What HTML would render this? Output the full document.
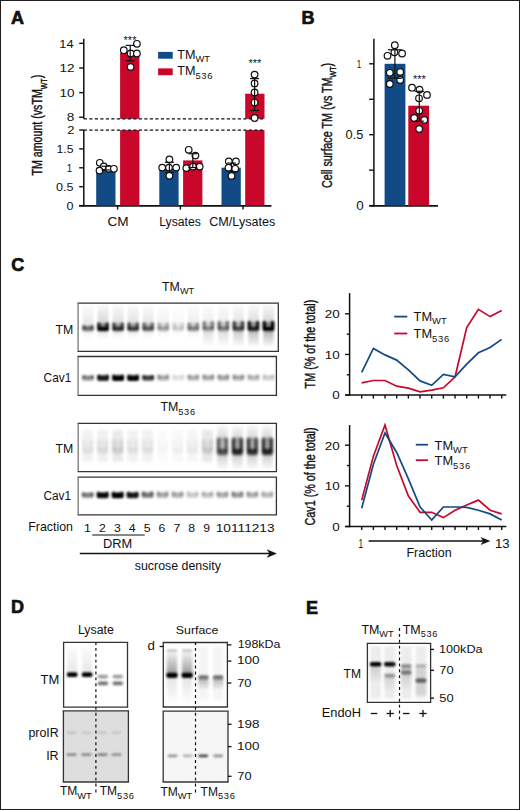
<!DOCTYPE html>
<html><head><meta charset="utf-8"><style>
html,body{margin:0;padding:0;background:#fff;overflow:hidden;}
svg{display:block;font-family:"Liberation Sans",sans-serif;}
</style></head><body>
<svg width="520" height="810" viewBox="0 0 520 810">
<defs><filter id="b5" x="-1" y="-1" width="3" height="3"><feGaussianBlur stdDeviation="0.5"/></filter><filter id="b6" x="-1" y="-1" width="3" height="3"><feGaussianBlur stdDeviation="0.6"/></filter><filter id="b7" x="-1" y="-1" width="3" height="3"><feGaussianBlur stdDeviation="0.7"/></filter><filter id="b8" x="-1" y="-1" width="3" height="3"><feGaussianBlur stdDeviation="0.8"/></filter><filter id="b9" x="-1" y="-1" width="3" height="3"><feGaussianBlur stdDeviation="0.9"/></filter><filter id="b10" x="-1" y="-1" width="3" height="3"><feGaussianBlur stdDeviation="1.0"/></filter><filter id="b11" x="-1" y="-1" width="3" height="3"><feGaussianBlur stdDeviation="1.1"/></filter><filter id="b12" x="-1" y="-1" width="3" height="3"><feGaussianBlur stdDeviation="1.2"/></filter><filter id="b13" x="-1" y="-1" width="3" height="3"><feGaussianBlur stdDeviation="1.3"/></filter><filter id="b14" x="-1" y="-1" width="3" height="3"><feGaussianBlur stdDeviation="1.4"/></filter><filter id="b15" x="-1" y="-1" width="3" height="3"><feGaussianBlur stdDeviation="1.5"/></filter><filter id="b16" x="-1" y="-1" width="3" height="3"><feGaussianBlur stdDeviation="1.6"/></filter><filter id="b17" x="-1" y="-1" width="3" height="3"><feGaussianBlur stdDeviation="1.7"/></filter><filter id="b18" x="-1" y="-1" width="3" height="3"><feGaussianBlur stdDeviation="1.8"/></filter><filter id="b19" x="-1" y="-1" width="3" height="3"><feGaussianBlur stdDeviation="1.9"/></filter><filter id="b20" x="-1" y="-1" width="3" height="3"><feGaussianBlur stdDeviation="2.0"/></filter><filter id="b21" x="-1" y="-1" width="3" height="3"><feGaussianBlur stdDeviation="2.1"/></filter><filter id="b22" x="-1" y="-1" width="3" height="3"><feGaussianBlur stdDeviation="2.2"/></filter><filter id="b23" x="-1" y="-1" width="3" height="3"><feGaussianBlur stdDeviation="2.3"/></filter><filter id="b24" x="-1" y="-1" width="3" height="3"><feGaussianBlur stdDeviation="2.4"/></filter><filter id="b25" x="-1" y="-1" width="3" height="3"><feGaussianBlur stdDeviation="2.5"/></filter><linearGradient id="gdown" x1="0" y1="0" x2="0" y2="1"><stop offset="0" stop-color="#000" stop-opacity="0.15"/><stop offset="1" stop-color="#000" stop-opacity="1"/></linearGradient><linearGradient id="gup" x1="0" y1="0" x2="0" y2="1"><stop offset="0" stop-color="#000" stop-opacity="1"/><stop offset="1" stop-color="#000" stop-opacity="0.1"/></linearGradient></defs>
<rect x="0" y="0" width="520" height="810" fill="#fff"/>
<text x="11" y="24.2" font-size="18" text-anchor="start" font-weight="bold" fill="#111" stroke="#111" stroke-width="0.7">A</text>
<line x1="83.8" y1="38.7" x2="83.8" y2="118.8" stroke="#111" stroke-width="1.5" />
<line x1="83.8" y1="130.0" x2="83.8" y2="206.3" stroke="#111" stroke-width="1.5" />
<line x1="79.2" y1="43.339999999999996" x2="83.8" y2="43.339999999999996" stroke="#111" stroke-width="1.4" />
<line x1="79.2" y1="67.97999999999999" x2="83.8" y2="67.97999999999999" stroke="#111" stroke-width="1.4" />
<line x1="79.2" y1="92.62" x2="83.8" y2="92.62" stroke="#111" stroke-width="1.4" />
<line x1="79.2" y1="117.25999999999999" x2="83.8" y2="117.25999999999999" stroke="#111" stroke-width="1.4" />
<line x1="79.2" y1="130.0" x2="83.8" y2="130.0" stroke="#111" stroke-width="1.4" />
<line x1="79.2" y1="148.9" x2="83.8" y2="148.9" stroke="#111" stroke-width="1.4" />
<line x1="79.2" y1="167.8" x2="83.8" y2="167.8" stroke="#111" stroke-width="1.4" />
<line x1="79.2" y1="186.7" x2="83.8" y2="186.7" stroke="#111" stroke-width="1.4" />
<line x1="79.2" y1="205.6" x2="83.8" y2="205.6" stroke="#111" stroke-width="1.4" />
<text transform="translate(59.23,47.5) scale(1.1229,1)" x="0" y="0" font-size="11.49" font-weight="normal" fill="#111">14</text>
<text transform="translate(59.39,71.8) scale(1.1922,1)" x="0" y="0" font-size="11.33" font-weight="normal" fill="#111">12</text>
<text transform="translate(59.38,96.5) scale(1.1949,1)" x="0" y="0" font-size="11.33" font-weight="normal" fill="#111">10</text>
<text transform="translate(66.72,121.4) scale(1.1726,1)" x="0" y="0" font-size="11.61" font-weight="normal" fill="#111">8</text>
<text transform="translate(67.15,134.2) scale(1.1596,1)" x="0" y="0" font-size="11.18" font-weight="normal" fill="#111">2</text>
<text transform="translate(56.48,153.0) scale(1.0648,1)" x="0" y="0" font-size="11.49" font-weight="normal" fill="#111">1.5</text>
<text transform="translate(66.87,171.7) scale(0.8559,1)" x="0" y="0" font-size="11.35" font-weight="normal" fill="#111">1</text>
<text transform="translate(56.00,190.7) scale(1.0846,1)" x="0" y="0" font-size="11.61" font-weight="normal" fill="#111">0.5</text>
<text transform="translate(66.60,209.6) scale(1.0955,1)" x="0" y="0" font-size="11.47" font-weight="normal" fill="#111">0</text>
<line x1="79.2" y1="205.8" x2="271.4" y2="205.8" stroke="#111" stroke-width="1.7" />
<line x1="117.6" y1="205.6" x2="117.6" y2="209.6" stroke="#111" stroke-width="1.4" />
<line x1="180.4" y1="205.6" x2="180.4" y2="209.6" stroke="#111" stroke-width="1.4" />
<line x1="243.0" y1="205.6" x2="243.0" y2="209.6" stroke="#111" stroke-width="1.4" />
<rect x="96.2" y="167.7" width="19.3" height="37.900000000000006" fill="#114a84" />
<rect x="159.3" y="167.7" width="19.3" height="37.900000000000006" fill="#114a84" />
<rect x="221.5" y="167.7" width="19.3" height="37.900000000000006" fill="#114a84" />
<rect x="120.1" y="53.0" width="19.3" height="65.8" fill="#c8072b" />
<rect x="120.1" y="130.1" width="19.3" height="75.5" fill="#c8072b" />
<rect x="183.1" y="160.4" width="19.3" height="45.19999999999999" fill="#c8072b" />
<rect x="245.2" y="93.7" width="19.3" height="25.099999999999994" fill="#c8072b" />
<rect x="245.2" y="130.1" width="19.3" height="75.5" fill="#c8072b" />
<line x1="83.8" y1="118.8" x2="264.4" y2="118.8" stroke="#111" stroke-width="1.3" stroke-dasharray="3.2 2.3"/>
<line x1="83.8" y1="130.1" x2="264.4" y2="130.1" stroke="#111" stroke-width="1.3" stroke-dasharray="3.2 2.3"/>
<circle cx="99.8" cy="162.8" r="3.3" fill="#fff" stroke="#111" stroke-width="1.2"/>
<circle cx="103.8" cy="166.5" r="3.3" fill="#fff" stroke="#111" stroke-width="1.2"/>
<circle cx="108.7" cy="168.8" r="3.3" fill="#fff" stroke="#111" stroke-width="1.2"/>
<circle cx="113.9" cy="168.8" r="3.3" fill="#fff" stroke="#111" stroke-width="1.2"/>
<circle cx="99.5" cy="170.6" r="3.3" fill="#fff" stroke="#111" stroke-width="1.2"/>
<line x1="105.9" y1="166.2" x2="105.9" y2="170.0" stroke="#111" stroke-width="1.2" />
<line x1="101.4" y1="166.2" x2="110.4" y2="166.2" stroke="#111" stroke-width="1.2" />
<line x1="101.4" y1="170.0" x2="110.4" y2="170.0" stroke="#111" stroke-width="1.2" />
<circle cx="123.8" cy="50.2" r="3.3" fill="#fff" stroke="#111" stroke-width="1.2"/>
<circle cx="136.9" cy="43.8" r="3.3" fill="#fff" stroke="#111" stroke-width="1.2"/>
<circle cx="130.6" cy="53.5" r="3.3" fill="#fff" stroke="#111" stroke-width="1.2"/>
<circle cx="136.9" cy="53.5" r="3.3" fill="#fff" stroke="#111" stroke-width="1.2"/>
<circle cx="130.6" cy="66.9" r="3.3" fill="#fff" stroke="#111" stroke-width="1.2"/>
<line x1="130.2" y1="45.4" x2="130.2" y2="60.8" stroke="#111" stroke-width="1.2" />
<line x1="125.69999999999999" y1="45.4" x2="134.7" y2="45.4" stroke="#111" stroke-width="1.2" />
<line x1="125.69999999999999" y1="60.8" x2="134.7" y2="60.8" stroke="#111" stroke-width="1.2" />
<text x="130.0" y="43.6" font-size="11" text-anchor="middle" font-weight="normal" fill="#111" >***</text>
<circle cx="169.4" cy="159.4" r="3.3" fill="#fff" stroke="#111" stroke-width="1.2"/>
<circle cx="162.2" cy="167.6" r="3.3" fill="#fff" stroke="#111" stroke-width="1.2"/>
<circle cx="169.0" cy="167.6" r="3.3" fill="#fff" stroke="#111" stroke-width="1.2"/>
<circle cx="176.2" cy="167.6" r="3.3" fill="#fff" stroke="#111" stroke-width="1.2"/>
<circle cx="169.4" cy="175.8" r="3.3" fill="#fff" stroke="#111" stroke-width="1.2"/>
<line x1="169.4" y1="162.3" x2="169.4" y2="172.5" stroke="#111" stroke-width="1.2" />
<line x1="164.9" y1="162.3" x2="173.9" y2="162.3" stroke="#111" stroke-width="1.2" />
<line x1="164.9" y1="172.5" x2="173.9" y2="172.5" stroke="#111" stroke-width="1.2" />
<circle cx="188.7" cy="149.8" r="3.3" fill="#fff" stroke="#111" stroke-width="1.2"/>
<circle cx="195.4" cy="155.6" r="3.3" fill="#fff" stroke="#111" stroke-width="1.2"/>
<circle cx="186.3" cy="168.1" r="3.3" fill="#fff" stroke="#111" stroke-width="1.2"/>
<circle cx="193.0" cy="166.6" r="3.3" fill="#fff" stroke="#111" stroke-width="1.2"/>
<circle cx="199.7" cy="166.6" r="3.3" fill="#fff" stroke="#111" stroke-width="1.2"/>
<line x1="192.8" y1="153.7" x2="192.8" y2="167.5" stroke="#111" stroke-width="1.2" />
<line x1="188.3" y1="153.7" x2="197.3" y2="153.7" stroke="#111" stroke-width="1.2" />
<line x1="188.3" y1="167.5" x2="197.3" y2="167.5" stroke="#111" stroke-width="1.2" />
<circle cx="228.8" cy="161.4" r="3.3" fill="#fff" stroke="#111" stroke-width="1.2"/>
<circle cx="235.9" cy="161.4" r="3.3" fill="#fff" stroke="#111" stroke-width="1.2"/>
<circle cx="228.5" cy="167.8" r="3.3" fill="#fff" stroke="#111" stroke-width="1.2"/>
<circle cx="235.2" cy="168.8" r="3.3" fill="#fff" stroke="#111" stroke-width="1.2"/>
<circle cx="231.5" cy="175.9" r="3.3" fill="#fff" stroke="#111" stroke-width="1.2"/>
<line x1="231.5" y1="163.1" x2="231.5" y2="171.5" stroke="#111" stroke-width="1.2" />
<line x1="227.0" y1="163.1" x2="236.0" y2="163.1" stroke="#111" stroke-width="1.2" />
<line x1="227.0" y1="171.5" x2="236.0" y2="171.5" stroke="#111" stroke-width="1.2" />
<circle cx="254.6" cy="74.6" r="3.3" fill="#fff" stroke="#111" stroke-width="1.2"/>
<circle cx="254.6" cy="83.4" r="3.3" fill="#fff" stroke="#111" stroke-width="1.2"/>
<circle cx="254.6" cy="92.5" r="3.3" fill="#fff" stroke="#111" stroke-width="1.2"/>
<circle cx="254.6" cy="102.4" r="3.3" fill="#fff" stroke="#111" stroke-width="1.2"/>
<circle cx="254.6" cy="118.0" r="3.3" fill="#fff" stroke="#111" stroke-width="1.2"/>
<line x1="254.6" y1="78.6" x2="254.6" y2="110.5" stroke="#111" stroke-width="1.2" />
<line x1="250.1" y1="78.6" x2="259.1" y2="78.6" stroke="#111" stroke-width="1.2" />
<line x1="250.1" y1="110.5" x2="259.1" y2="110.5" stroke="#111" stroke-width="1.2" />
<text x="254.9" y="66.8" font-size="11" text-anchor="middle" font-weight="normal" fill="#111" >***</text>
<rect x="158.1" y="51.9" width="14.6" height="6.8" fill="#114a84" />
<rect x="158.1" y="68.4" width="14.6" height="6.8" fill="#c8072b" />
<text x="177.2" y="58.9" font-size="12.6" text-anchor="start" fill="#111">TM<tspan font-size="9.4" dy="3.3">WT</tspan></text>
<text x="177.2" y="75.2" font-size="12.6" text-anchor="start" fill="#111">TM<tspan font-size="9.4" dy="3.5" letter-spacing="0.7">536</tspan></text>
<text transform="translate(107.42,226.4) scale(1.1061,1)" x="0" y="0" font-size="12.33" font-weight="normal" fill="#111">CM</text>
<text transform="translate(159.19,226.4) scale(0.9809,1)" x="0" y="0" font-size="12.51" font-weight="normal" fill="#111">Lysates</text>
<text transform="translate(209.27,226.3) scale(1.0519,1)" x="0" y="0" font-size="12.00" font-weight="normal" fill="#111">CM/Lysates</text>
<g transform="translate(42.1,175.5) rotate(-90) scale(0.7341,1)"><text x="0" y="0" font-size="14.5" fill="#111" stroke="#111" stroke-width="0.4"><tspan dy="0">TM amount (vsTM</tspan><tspan font-size="9.57" dy="4.8">WT</tspan><tspan dy="-4.8">)</tspan></text></g>
<text x="301.5" y="23.6" font-size="18" text-anchor="start" font-weight="bold" fill="#111" stroke="#111" stroke-width="0.7">B</text>
<line x1="373.9" y1="38.7" x2="373.9" y2="206.3" stroke="#111" stroke-width="1.5" />
<line x1="369.2" y1="63.79999999999998" x2="373.9" y2="63.79999999999998" stroke="#111" stroke-width="1.4" />
<line x1="369.2" y1="99.24999999999999" x2="373.9" y2="99.24999999999999" stroke="#111" stroke-width="1.4" />
<line x1="369.2" y1="134.7" x2="373.9" y2="134.7" stroke="#111" stroke-width="1.4" />
<line x1="369.2" y1="170.14999999999998" x2="373.9" y2="170.14999999999998" stroke="#111" stroke-width="1.4" />
<line x1="369.2" y1="205.6" x2="373.9" y2="205.6" stroke="#111" stroke-width="1.4" />
<text transform="translate(356.79,67.8) scale(0.7133,1)" x="0" y="0" font-size="11.35" font-weight="normal" fill="#111">1</text>
<text transform="translate(345.59,138.8) scale(1.0165,1)" x="0" y="0" font-size="12.62" font-weight="normal" fill="#111">0.5</text>
<text transform="translate(356.26,209.8) scale(1.0871,1)" x="0" y="0" font-size="12.33" font-weight="normal" fill="#111">0</text>
<line x1="369.2" y1="205.8" x2="438.0" y2="205.8" stroke="#111" stroke-width="1.7" />
<rect x="384.6" y="63.79999999999998" width="20.8" height="141.8" fill="#114a84" />
<rect x="408.3" y="105.7" width="20.8" height="99.89999999999999" fill="#c8072b" />
<circle cx="394.8" cy="45.2" r="3.3" fill="#fff" stroke="#111" stroke-width="1.2"/>
<circle cx="387.5" cy="55.8" r="3.3" fill="#fff" stroke="#111" stroke-width="1.2"/>
<circle cx="402.1" cy="53.5" r="3.3" fill="#fff" stroke="#111" stroke-width="1.2"/>
<circle cx="394.4" cy="52.3" r="3.3" fill="#fff" stroke="#111" stroke-width="1.2"/>
<circle cx="389.8" cy="72.8" r="3.3" fill="#fff" stroke="#111" stroke-width="1.2"/>
<circle cx="400.2" cy="71.9" r="3.3" fill="#fff" stroke="#111" stroke-width="1.2"/>
<circle cx="400.2" cy="80.0" r="3.3" fill="#fff" stroke="#111" stroke-width="1.2"/>
<circle cx="389.8" cy="84.0" r="3.3" fill="#fff" stroke="#111" stroke-width="1.2"/>
<line x1="394.9" y1="49.8" x2="394.9" y2="78.3" stroke="#111" stroke-width="1.2" />
<line x1="388.0" y1="49.8" x2="401.79999999999995" y2="49.8" stroke="#111" stroke-width="1.2" />
<line x1="388.0" y1="78.3" x2="401.79999999999995" y2="78.3" stroke="#111" stroke-width="1.2" />
<circle cx="412.0" cy="87.7" r="3.3" fill="#fff" stroke="#111" stroke-width="1.2"/>
<circle cx="419.5" cy="89.6" r="3.3" fill="#fff" stroke="#111" stroke-width="1.2"/>
<circle cx="427.0" cy="94.9" r="3.3" fill="#fff" stroke="#111" stroke-width="1.2"/>
<circle cx="419.0" cy="98.3" r="3.3" fill="#fff" stroke="#111" stroke-width="1.2"/>
<circle cx="419.2" cy="110.8" r="3.3" fill="#fff" stroke="#111" stroke-width="1.2"/>
<circle cx="414.2" cy="118.0" r="3.3" fill="#fff" stroke="#111" stroke-width="1.2"/>
<circle cx="424.3" cy="119.9" r="3.3" fill="#fff" stroke="#111" stroke-width="1.2"/>
<circle cx="419.2" cy="129.0" r="3.3" fill="#fff" stroke="#111" stroke-width="1.2"/>
<line x1="419.3" y1="91.3" x2="419.3" y2="121.2" stroke="#111" stroke-width="1.2" />
<line x1="414.7" y1="91.3" x2="423.90000000000003" y2="91.3" stroke="#111" stroke-width="1.2" />
<line x1="414.7" y1="121.2" x2="423.90000000000003" y2="121.2" stroke="#111" stroke-width="1.2" />
<text x="419.4" y="83.4" font-size="11" text-anchor="middle" font-weight="normal" fill="#111" >***</text>
<g transform="translate(331.5,188.0) rotate(-90) scale(0.7257,1)"><text x="0" y="0" font-size="14.8" fill="#111" stroke="#111" stroke-width="0.4"><tspan dy="0">Cell surface TM (vs TM</tspan><tspan font-size="9.77" dy="4.8">WT</tspan><tspan dy="-4.8">)</tspan></text></g>
<text x="11.2" y="271.3" font-size="18" text-anchor="start" font-weight="bold" fill="#111" stroke="#111" stroke-width="0.7">C</text>
<text x="162.0" y="291.0" font-size="12.4" text-anchor="start" fill="#111">TM<tspan font-size="9.2" dy="3.3">WT</tspan></text>
<text x="160.4" y="411.2" font-size="12.4" text-anchor="start" fill="#111">TM<tspan font-size="9.2" dy="3.6" letter-spacing="0.7">536</tspan></text>
<text transform="translate(55.52,333.8) scale(0.9219,1)" x="0" y="0" font-size="13.38" font-weight="normal" fill="#111">TM</text>
<text transform="translate(43.61,382.1) scale(0.8989,1)" x="0" y="0" font-size="13.19" font-weight="normal" fill="#111">Cav1</text>
<text transform="translate(55.52,453.0) scale(0.9264,1)" x="0" y="0" font-size="13.24" font-weight="normal" fill="#111">TM</text>
<text transform="translate(43.51,499.9) scale(0.9362,1)" x="0" y="0" font-size="12.62" font-weight="normal" fill="#111">Cav1</text>
<rect x="78.1" y="303.2" width="200.20000000000002" height="48.10000000000002" fill="#fff"/>
<rect x="82.50" y="305.00" width="11.00" height="23.00" fill="url(#gdown)" opacity="0.104" filter="url(#b13)"/>
<rect x="82.75" y="331.00" width="10.50" height="8.00" fill="url(#gup)" opacity="0.052" filter="url(#b13)"/>
<g filter="url(#b11)">
<rect x="82.10" y="325.10" width="11.80" height="3.90" fill="#000" opacity="0.182"/>
<rect x="82.10" y="326.70" width="11.80" height="4.60" rx="2.00" fill="#000" opacity="0.520"/>
<rect x="82.10" y="324.70" width="3.54" height="4.30" rx="1.77" fill="#000" opacity="0.390"/>
<rect x="90.36" y="324.70" width="3.54" height="4.30" rx="1.77" fill="#000" opacity="0.390"/>
</g>
<rect x="97.54" y="305.00" width="11.00" height="23.00" fill="url(#gdown)" opacity="0.194" filter="url(#b13)"/>
<rect x="97.79" y="331.00" width="10.50" height="8.00" fill="url(#gup)" opacity="0.097" filter="url(#b13)"/>
<g filter="url(#b11)">
<rect x="97.14" y="323.10" width="11.80" height="5.90" fill="#000" opacity="0.339"/>
<rect x="97.14" y="326.70" width="11.80" height="4.60" rx="2.00" fill="#000" opacity="0.970"/>
<rect x="97.14" y="322.20" width="3.54" height="6.80" rx="1.77" fill="#000" opacity="0.728"/>
<rect x="105.40" y="322.20" width="3.54" height="6.80" rx="1.77" fill="#000" opacity="0.728"/>
</g>
<rect x="112.58" y="305.00" width="11.00" height="23.00" fill="url(#gdown)" opacity="0.150" filter="url(#b13)"/>
<rect x="112.83" y="331.00" width="10.50" height="8.00" fill="url(#gup)" opacity="0.075" filter="url(#b13)"/>
<g filter="url(#b11)">
<rect x="112.18" y="323.10" width="11.80" height="5.90" fill="#000" opacity="0.262"/>
<rect x="112.18" y="326.70" width="11.80" height="4.60" rx="2.00" fill="#000" opacity="0.750"/>
<rect x="112.18" y="322.20" width="3.54" height="6.80" rx="1.77" fill="#000" opacity="0.562"/>
<rect x="120.44" y="322.20" width="3.54" height="6.80" rx="1.77" fill="#000" opacity="0.562"/>
</g>
<rect x="127.62" y="305.00" width="11.00" height="23.00" fill="url(#gdown)" opacity="0.140" filter="url(#b13)"/>
<rect x="127.87" y="331.00" width="10.50" height="8.00" fill="url(#gup)" opacity="0.070" filter="url(#b13)"/>
<g filter="url(#b11)">
<rect x="127.22" y="323.10" width="11.80" height="5.90" fill="#000" opacity="0.245"/>
<rect x="127.22" y="326.70" width="11.80" height="4.60" rx="2.00" fill="#000" opacity="0.700"/>
<rect x="127.22" y="322.20" width="3.54" height="6.80" rx="1.77" fill="#000" opacity="0.525"/>
<rect x="135.48" y="322.20" width="3.54" height="6.80" rx="1.77" fill="#000" opacity="0.525"/>
</g>
<rect x="142.66" y="305.00" width="11.00" height="23.00" fill="url(#gdown)" opacity="0.116" filter="url(#b13)"/>
<rect x="142.91" y="331.00" width="10.50" height="8.00" fill="url(#gup)" opacity="0.058" filter="url(#b13)"/>
<g filter="url(#b11)">
<rect x="142.26" y="323.10" width="11.80" height="5.90" fill="#000" opacity="0.203"/>
<rect x="142.26" y="326.70" width="11.80" height="4.60" rx="2.00" fill="#000" opacity="0.580"/>
<rect x="142.26" y="322.20" width="3.54" height="6.80" rx="1.77" fill="#000" opacity="0.435"/>
<rect x="150.52" y="322.20" width="3.54" height="6.80" rx="1.77" fill="#000" opacity="0.435"/>
</g>
<rect x="157.70" y="305.00" width="11.00" height="23.00" fill="url(#gdown)" opacity="0.060" filter="url(#b13)"/>
<rect x="157.95" y="331.00" width="10.50" height="8.00" fill="url(#gup)" opacity="0.030" filter="url(#b13)"/>
<g filter="url(#b11)">
<rect x="157.30" y="323.10" width="11.80" height="5.90" fill="#000" opacity="0.105"/>
<rect x="157.30" y="326.70" width="11.80" height="4.60" rx="2.00" fill="#000" opacity="0.300"/>
<rect x="157.30" y="322.20" width="3.54" height="6.80" rx="1.77" fill="#000" opacity="0.225"/>
<rect x="165.56" y="322.20" width="3.54" height="6.80" rx="1.77" fill="#000" opacity="0.225"/>
</g>
<rect x="172.74" y="305.00" width="11.00" height="23.00" fill="url(#gdown)" opacity="0.032" filter="url(#b13)"/>
<rect x="172.99" y="331.00" width="10.50" height="8.00" fill="url(#gup)" opacity="0.016" filter="url(#b13)"/>
<g filter="url(#b11)">
<rect x="172.34" y="323.10" width="11.80" height="5.90" fill="#000" opacity="0.056"/>
<rect x="172.34" y="326.70" width="11.80" height="4.60" rx="2.00" fill="#000" opacity="0.160"/>
<rect x="172.34" y="322.20" width="3.54" height="6.80" rx="1.77" fill="#000" opacity="0.120"/>
<rect x="180.60" y="322.20" width="3.54" height="6.80" rx="1.77" fill="#000" opacity="0.120"/>
</g>
<rect x="187.78" y="305.00" width="11.00" height="23.00" fill="url(#gdown)" opacity="0.084" filter="url(#b13)"/>
<rect x="188.03" y="331.00" width="10.50" height="8.00" fill="url(#gup)" opacity="0.042" filter="url(#b13)"/>
<g filter="url(#b11)">
<rect x="187.38" y="323.10" width="11.80" height="5.90" fill="#000" opacity="0.147"/>
<rect x="187.38" y="326.70" width="11.80" height="4.60" rx="2.00" fill="#000" opacity="0.420"/>
<rect x="187.38" y="322.20" width="3.54" height="6.80" rx="1.77" fill="#000" opacity="0.315"/>
<rect x="195.64" y="322.20" width="3.54" height="6.80" rx="1.77" fill="#000" opacity="0.315"/>
</g>
<rect x="202.82" y="305.00" width="11.00" height="23.00" fill="url(#gdown)" opacity="0.080" filter="url(#b13)"/>
<rect x="203.07" y="331.00" width="10.50" height="15.00" fill="url(#gup)" opacity="0.120" filter="url(#b13)"/>
<g filter="url(#b11)">
<rect x="202.42" y="321.90" width="11.80" height="7.10" fill="#000" opacity="0.140"/>
<rect x="202.42" y="326.70" width="11.80" height="4.60" rx="2.00" fill="#000" opacity="0.400"/>
<rect x="202.42" y="320.70" width="3.54" height="8.30" rx="1.77" fill="#000" opacity="0.380"/>
<rect x="210.68" y="320.70" width="3.54" height="8.30" rx="1.77" fill="#000" opacity="0.380"/>
</g>
<rect x="217.86" y="305.00" width="11.00" height="23.00" fill="url(#gdown)" opacity="0.090" filter="url(#b13)"/>
<rect x="218.11" y="331.00" width="10.50" height="15.00" fill="url(#gup)" opacity="0.135" filter="url(#b13)"/>
<g filter="url(#b11)">
<rect x="217.46" y="321.90" width="11.80" height="7.10" fill="#000" opacity="0.158"/>
<rect x="217.46" y="326.70" width="11.80" height="4.60" rx="2.00" fill="#000" opacity="0.450"/>
<rect x="217.46" y="320.70" width="3.54" height="8.30" rx="1.77" fill="#000" opacity="0.427"/>
<rect x="225.72" y="320.70" width="3.54" height="8.30" rx="1.77" fill="#000" opacity="0.427"/>
</g>
<rect x="232.90" y="305.00" width="11.00" height="23.00" fill="url(#gdown)" opacity="0.130" filter="url(#b13)"/>
<rect x="233.15" y="331.00" width="10.50" height="15.00" fill="url(#gup)" opacity="0.195" filter="url(#b13)"/>
<g filter="url(#b11)">
<rect x="232.50" y="321.90" width="11.80" height="7.10" fill="#000" opacity="0.227"/>
<rect x="232.50" y="326.70" width="11.80" height="4.60" rx="2.00" fill="#000" opacity="0.650"/>
<rect x="232.50" y="320.70" width="3.54" height="8.30" rx="1.77" fill="#000" opacity="0.617"/>
<rect x="240.76" y="320.70" width="3.54" height="8.30" rx="1.77" fill="#000" opacity="0.617"/>
</g>
<rect x="247.94" y="305.00" width="11.00" height="23.00" fill="url(#gdown)" opacity="0.170" filter="url(#b13)"/>
<rect x="248.19" y="331.00" width="10.50" height="15.00" fill="url(#gup)" opacity="0.255" filter="url(#b13)"/>
<g filter="url(#b11)">
<rect x="247.54" y="321.90" width="11.80" height="7.10" fill="#000" opacity="0.297"/>
<rect x="247.54" y="326.70" width="11.80" height="4.60" rx="2.00" fill="#000" opacity="0.850"/>
<rect x="247.54" y="320.70" width="3.54" height="8.30" rx="1.77" fill="#000" opacity="0.807"/>
<rect x="255.80" y="320.70" width="3.54" height="8.30" rx="1.77" fill="#000" opacity="0.807"/>
</g>
<rect x="262.98" y="305.00" width="11.00" height="23.00" fill="url(#gdown)" opacity="0.196" filter="url(#b13)"/>
<rect x="263.23" y="331.00" width="10.50" height="15.00" fill="url(#gup)" opacity="0.294" filter="url(#b13)"/>
<g filter="url(#b11)">
<rect x="262.58" y="321.90" width="11.80" height="7.10" fill="#000" opacity="0.343"/>
<rect x="262.58" y="326.70" width="11.80" height="4.60" rx="2.00" fill="#000" opacity="0.980"/>
<rect x="262.58" y="320.70" width="3.54" height="8.30" rx="1.77" fill="#000" opacity="0.931"/>
<rect x="270.84" y="320.70" width="3.54" height="8.30" rx="1.77" fill="#000" opacity="0.931"/>
</g>
<rect x="78.1" y="356.5" width="198.29999999999998" height="38.89999999999998" fill="#fff"/>
<g filter="url(#b10)">
<rect x="82.00" y="374.98" width="12.00" height="3.42" fill="#000" opacity="0.190"/>
<rect x="82.00" y="376.10" width="12.00" height="4.60" rx="2.00" fill="#000" opacity="0.380"/>
<rect x="82.00" y="374.70" width="3.60" height="3.70" rx="1.80" fill="#000" opacity="0.304"/>
<rect x="90.40" y="374.70" width="3.60" height="3.70" rx="1.80" fill="#000" opacity="0.304"/>
</g>
<g filter="url(#b10)">
<rect x="97.04" y="374.68" width="12.00" height="3.72" fill="#000" opacity="0.425"/>
<rect x="97.04" y="375.80" width="12.00" height="5.20" rx="2.00" fill="#000" opacity="0.850"/>
<rect x="97.04" y="374.40" width="3.60" height="4.00" rx="1.80" fill="#000" opacity="0.680"/>
<rect x="105.44" y="374.40" width="3.60" height="4.00" rx="1.80" fill="#000" opacity="0.680"/>
</g>
<g filter="url(#b10)">
<rect x="112.08" y="374.68" width="12.00" height="3.72" fill="#000" opacity="0.500"/>
<rect x="112.08" y="375.80" width="12.00" height="5.20" rx="2.00" fill="#000" opacity="1.000"/>
<rect x="112.08" y="374.40" width="3.60" height="4.00" rx="1.80" fill="#000" opacity="0.800"/>
<rect x="120.48" y="374.40" width="3.60" height="4.00" rx="1.80" fill="#000" opacity="0.800"/>
</g>
<g filter="url(#b10)">
<rect x="127.12" y="374.68" width="12.00" height="3.72" fill="#000" opacity="0.485"/>
<rect x="127.12" y="375.80" width="12.00" height="5.20" rx="2.00" fill="#000" opacity="0.970"/>
<rect x="127.12" y="374.40" width="3.60" height="4.00" rx="1.80" fill="#000" opacity="0.776"/>
<rect x="135.52" y="374.40" width="3.60" height="4.00" rx="1.80" fill="#000" opacity="0.776"/>
</g>
<g filter="url(#b10)">
<rect x="142.16" y="374.98" width="12.00" height="3.42" fill="#000" opacity="0.340"/>
<rect x="142.16" y="376.10" width="12.00" height="4.60" rx="2.00" fill="#000" opacity="0.680"/>
<rect x="142.16" y="374.70" width="3.60" height="3.70" rx="1.80" fill="#000" opacity="0.544"/>
<rect x="150.56" y="374.70" width="3.60" height="3.70" rx="1.80" fill="#000" opacity="0.544"/>
</g>
<g filter="url(#b10)">
<rect x="157.20" y="374.50" width="12.00" height="3.90" fill="#000" opacity="0.135"/>
<rect x="157.20" y="376.10" width="12.00" height="4.60" rx="2.00" fill="#000" opacity="0.270"/>
<rect x="157.20" y="374.10" width="3.60" height="4.30" rx="1.80" fill="#000" opacity="0.216"/>
<rect x="165.60" y="374.10" width="3.60" height="4.30" rx="1.80" fill="#000" opacity="0.216"/>
</g>
<g filter="url(#b10)">
<rect x="172.24" y="374.50" width="12.00" height="3.90" fill="#000" opacity="0.045"/>
<rect x="172.24" y="376.10" width="12.00" height="4.60" rx="2.00" fill="#000" opacity="0.090"/>
<rect x="172.24" y="374.10" width="3.60" height="4.30" rx="1.80" fill="#000" opacity="0.072"/>
<rect x="180.64" y="374.10" width="3.60" height="4.30" rx="1.80" fill="#000" opacity="0.072"/>
</g>
<g filter="url(#b10)">
<rect x="187.28" y="374.50" width="12.00" height="3.90" fill="#000" opacity="0.125"/>
<rect x="187.28" y="376.10" width="12.00" height="4.60" rx="2.00" fill="#000" opacity="0.250"/>
<rect x="187.28" y="374.10" width="3.60" height="4.30" rx="1.80" fill="#000" opacity="0.200"/>
<rect x="195.68" y="374.10" width="3.60" height="4.30" rx="1.80" fill="#000" opacity="0.200"/>
</g>
<g filter="url(#b10)">
<rect x="202.32" y="374.50" width="12.00" height="3.90" fill="#000" opacity="0.135"/>
<rect x="202.32" y="376.10" width="12.00" height="4.60" rx="2.00" fill="#000" opacity="0.270"/>
<rect x="202.32" y="374.10" width="3.60" height="4.30" rx="1.80" fill="#000" opacity="0.216"/>
<rect x="210.72" y="374.10" width="3.60" height="4.30" rx="1.80" fill="#000" opacity="0.216"/>
</g>
<g filter="url(#b10)">
<rect x="217.36" y="374.50" width="12.00" height="3.90" fill="#000" opacity="0.140"/>
<rect x="217.36" y="376.10" width="12.00" height="4.60" rx="2.00" fill="#000" opacity="0.280"/>
<rect x="217.36" y="374.10" width="3.60" height="4.30" rx="1.80" fill="#000" opacity="0.224"/>
<rect x="225.76" y="374.10" width="3.60" height="4.30" rx="1.80" fill="#000" opacity="0.224"/>
</g>
<g filter="url(#b10)">
<rect x="232.40" y="374.50" width="12.00" height="3.90" fill="#000" opacity="0.135"/>
<rect x="232.40" y="376.10" width="12.00" height="4.60" rx="2.00" fill="#000" opacity="0.270"/>
<rect x="232.40" y="374.10" width="3.60" height="4.30" rx="1.80" fill="#000" opacity="0.216"/>
<rect x="240.80" y="374.10" width="3.60" height="4.30" rx="1.80" fill="#000" opacity="0.216"/>
</g>
<g filter="url(#b10)">
<rect x="247.44" y="374.50" width="12.00" height="3.90" fill="#000" opacity="0.110"/>
<rect x="247.44" y="376.10" width="12.00" height="4.60" rx="2.00" fill="#000" opacity="0.220"/>
<rect x="247.44" y="374.10" width="3.60" height="4.30" rx="1.80" fill="#000" opacity="0.176"/>
<rect x="255.84" y="374.10" width="3.60" height="4.30" rx="1.80" fill="#000" opacity="0.176"/>
</g>
<g filter="url(#b10)">
<rect x="262.48" y="374.50" width="12.00" height="3.90" fill="#000" opacity="0.075"/>
<rect x="262.48" y="376.10" width="12.00" height="4.60" rx="2.00" fill="#000" opacity="0.150"/>
<rect x="262.48" y="374.10" width="3.60" height="4.30" rx="1.80" fill="#000" opacity="0.120"/>
<rect x="270.88" y="374.10" width="3.60" height="4.30" rx="1.80" fill="#000" opacity="0.120"/>
</g>
<rect x="78.2" y="423.4" width="198.2" height="48.200000000000045" fill="#fff"/>
<rect x="82.45" y="430.00" width="10.50" height="32.00" fill="#000" opacity="0.050" filter="url(#b18)"/>
<g filter="url(#b16)">
<rect x="82.45" y="440.80" width="10.50" height="10.20" fill="#000" opacity="0.024"/>
<rect x="82.45" y="448.00" width="10.50" height="6.00" rx="2.00" fill="#000" opacity="0.060"/>
<rect x="82.45" y="439.00" width="2.31" height="12.00" rx="1.16" fill="#000" opacity="0.072"/>
<rect x="90.64" y="439.00" width="2.31" height="12.00" rx="1.16" fill="#000" opacity="0.072"/>
</g>
<rect x="97.42" y="430.00" width="10.50" height="32.00" fill="#000" opacity="0.059" filter="url(#b18)"/>
<g filter="url(#b16)">
<rect x="97.42" y="440.80" width="10.50" height="10.20" fill="#000" opacity="0.028"/>
<rect x="97.42" y="448.00" width="10.50" height="6.00" rx="2.00" fill="#000" opacity="0.070"/>
<rect x="97.42" y="439.00" width="2.31" height="12.00" rx="1.16" fill="#000" opacity="0.084"/>
<rect x="105.61" y="439.00" width="2.31" height="12.00" rx="1.16" fill="#000" opacity="0.084"/>
</g>
<rect x="112.39" y="430.00" width="10.50" height="32.00" fill="#000" opacity="0.084" filter="url(#b18)"/>
<g filter="url(#b16)">
<rect x="112.39" y="440.80" width="10.50" height="10.20" fill="#000" opacity="0.040"/>
<rect x="112.39" y="448.00" width="10.50" height="6.00" rx="2.00" fill="#000" opacity="0.100"/>
<rect x="112.39" y="439.00" width="2.31" height="12.00" rx="1.16" fill="#000" opacity="0.120"/>
<rect x="120.58" y="439.00" width="2.31" height="12.00" rx="1.16" fill="#000" opacity="0.120"/>
</g>
<rect x="127.36" y="430.00" width="10.50" height="32.00" fill="#000" opacity="0.050" filter="url(#b18)"/>
<g filter="url(#b16)">
<rect x="127.36" y="440.80" width="10.50" height="10.20" fill="#000" opacity="0.024"/>
<rect x="127.36" y="448.00" width="10.50" height="6.00" rx="2.00" fill="#000" opacity="0.060"/>
<rect x="127.36" y="439.00" width="2.31" height="12.00" rx="1.16" fill="#000" opacity="0.072"/>
<rect x="135.55" y="439.00" width="2.31" height="12.00" rx="1.16" fill="#000" opacity="0.072"/>
</g>
<rect x="142.33" y="430.00" width="10.50" height="32.00" fill="#000" opacity="0.050" filter="url(#b18)"/>
<g filter="url(#b16)">
<rect x="142.33" y="440.80" width="10.50" height="10.20" fill="#000" opacity="0.024"/>
<rect x="142.33" y="448.00" width="10.50" height="6.00" rx="2.00" fill="#000" opacity="0.060"/>
<rect x="142.33" y="439.00" width="2.31" height="12.00" rx="1.16" fill="#000" opacity="0.072"/>
<rect x="150.52" y="439.00" width="2.31" height="12.00" rx="1.16" fill="#000" opacity="0.072"/>
</g>
<rect x="157.30" y="430.00" width="10.50" height="32.00" fill="#000" opacity="0.017" filter="url(#b18)"/>
<g filter="url(#b16)">
<rect x="157.30" y="440.80" width="10.50" height="10.20" fill="#000" opacity="0.008"/>
<rect x="157.30" y="448.00" width="10.50" height="6.00" rx="2.00" fill="#000" opacity="0.020"/>
<rect x="157.30" y="439.00" width="2.31" height="12.00" rx="1.16" fill="#000" opacity="0.024"/>
<rect x="165.49" y="439.00" width="2.31" height="12.00" rx="1.16" fill="#000" opacity="0.024"/>
</g>
<rect x="172.27" y="430.00" width="10.50" height="32.00" fill="#000" opacity="0.025" filter="url(#b18)"/>
<g filter="url(#b16)">
<rect x="172.27" y="440.80" width="10.50" height="10.20" fill="#000" opacity="0.012"/>
<rect x="172.27" y="448.00" width="10.50" height="6.00" rx="2.00" fill="#000" opacity="0.030"/>
<rect x="172.27" y="439.00" width="2.31" height="12.00" rx="1.16" fill="#000" opacity="0.036"/>
<rect x="180.46" y="439.00" width="2.31" height="12.00" rx="1.16" fill="#000" opacity="0.036"/>
</g>
<rect x="187.24" y="430.00" width="10.50" height="32.00" fill="#000" opacity="0.034" filter="url(#b18)"/>
<g filter="url(#b16)">
<rect x="187.24" y="440.80" width="10.50" height="10.20" fill="#000" opacity="0.016"/>
<rect x="187.24" y="448.00" width="10.50" height="6.00" rx="2.00" fill="#000" opacity="0.040"/>
<rect x="187.24" y="439.00" width="2.31" height="12.00" rx="1.16" fill="#000" opacity="0.048"/>
<rect x="195.43" y="439.00" width="2.31" height="12.00" rx="1.16" fill="#000" opacity="0.048"/>
</g>
<rect x="202.21" y="430.00" width="10.50" height="32.00" fill="#000" opacity="0.092" filter="url(#b18)"/>
<g filter="url(#b16)">
<rect x="202.21" y="440.80" width="10.50" height="10.20" fill="#000" opacity="0.044"/>
<rect x="202.21" y="448.00" width="10.50" height="6.00" rx="2.00" fill="#000" opacity="0.110"/>
<rect x="202.21" y="439.00" width="2.31" height="12.00" rx="1.16" fill="#000" opacity="0.132"/>
<rect x="210.40" y="439.00" width="2.31" height="12.00" rx="1.16" fill="#000" opacity="0.132"/>
</g>
<rect x="217.18" y="425.00" width="10.50" height="15.00" fill="url(#gdown)" opacity="0.170" filter="url(#b15)"/>
<rect x="217.18" y="452.00" width="10.50" height="17.00" fill="url(#gup)" opacity="0.220" filter="url(#b15)"/>
<rect x="217.68" y="438.00" width="9.50" height="14.00" fill="#000" opacity="0.252" filter="url(#b15)"/>
<g filter="url(#b14)">
<rect x="217.03" y="449.00" width="10.80" height="6.00" rx="2.00" fill="#000" opacity="0.612"/>
<rect x="217.03" y="438.00" width="3.02" height="14.00" rx="1.51" fill="#000" opacity="0.643"/>
<rect x="224.81" y="438.00" width="3.02" height="14.00" rx="1.51" fill="#000" opacity="0.643"/>
</g>
<rect x="232.15" y="425.00" width="10.50" height="15.00" fill="url(#gdown)" opacity="0.170" filter="url(#b15)"/>
<rect x="232.15" y="452.00" width="10.50" height="17.00" fill="url(#gup)" opacity="0.220" filter="url(#b15)"/>
<rect x="232.65" y="438.00" width="9.50" height="14.00" fill="#000" opacity="0.332" filter="url(#b15)"/>
<g filter="url(#b14)">
<rect x="232.00" y="449.00" width="10.80" height="6.00" rx="2.00" fill="#000" opacity="0.807"/>
<rect x="232.00" y="438.00" width="3.02" height="14.00" rx="1.51" fill="#000" opacity="0.848"/>
<rect x="239.78" y="438.00" width="3.02" height="14.00" rx="1.51" fill="#000" opacity="0.848"/>
</g>
<rect x="247.12" y="425.00" width="10.50" height="15.00" fill="url(#gdown)" opacity="0.170" filter="url(#b15)"/>
<rect x="247.12" y="452.00" width="10.50" height="17.00" fill="url(#gup)" opacity="0.220" filter="url(#b15)"/>
<rect x="247.62" y="438.00" width="9.50" height="14.00" fill="#000" opacity="0.315" filter="url(#b15)"/>
<g filter="url(#b14)">
<rect x="246.97" y="449.00" width="10.80" height="6.00" rx="2.00" fill="#000" opacity="0.765"/>
<rect x="246.97" y="438.00" width="3.02" height="14.00" rx="1.51" fill="#000" opacity="0.803"/>
<rect x="254.75" y="438.00" width="3.02" height="14.00" rx="1.51" fill="#000" opacity="0.803"/>
</g>
<rect x="262.09" y="425.00" width="10.50" height="15.00" fill="url(#gdown)" opacity="0.170" filter="url(#b15)"/>
<rect x="262.09" y="452.00" width="10.50" height="17.00" fill="url(#gup)" opacity="0.220" filter="url(#b15)"/>
<rect x="262.59" y="438.00" width="9.50" height="14.00" fill="#000" opacity="0.339" filter="url(#b15)"/>
<g filter="url(#b14)">
<rect x="261.94" y="449.00" width="10.80" height="6.00" rx="2.00" fill="#000" opacity="0.825"/>
<rect x="261.94" y="438.00" width="3.02" height="14.00" rx="1.51" fill="#000" opacity="0.866"/>
<rect x="269.72" y="438.00" width="3.02" height="14.00" rx="1.51" fill="#000" opacity="0.866"/>
</g>
<rect x="78.2" y="477.1" width="198.2" height="37.69999999999993" fill="#fff"/>
<g filter="url(#b10)">
<rect x="81.70" y="492.18" width="12.00" height="3.42" fill="#000" opacity="0.210"/>
<rect x="81.70" y="493.30" width="12.00" height="4.60" rx="2.00" fill="#000" opacity="0.420"/>
<rect x="81.70" y="491.90" width="3.60" height="3.70" rx="1.80" fill="#000" opacity="0.336"/>
<rect x="90.10" y="491.90" width="3.60" height="3.70" rx="1.80" fill="#000" opacity="0.336"/>
</g>
<g filter="url(#b10)">
<rect x="96.67" y="491.88" width="12.00" height="3.72" fill="#000" opacity="0.475"/>
<rect x="96.67" y="493.00" width="12.00" height="5.20" rx="2.00" fill="#000" opacity="0.950"/>
<rect x="96.67" y="491.60" width="3.60" height="4.00" rx="1.80" fill="#000" opacity="0.760"/>
<rect x="105.07" y="491.60" width="3.60" height="4.00" rx="1.80" fill="#000" opacity="0.760"/>
</g>
<g filter="url(#b10)">
<rect x="111.64" y="491.88" width="12.00" height="3.72" fill="#000" opacity="0.500"/>
<rect x="111.64" y="493.00" width="12.00" height="5.20" rx="2.00" fill="#000" opacity="1.000"/>
<rect x="111.64" y="491.60" width="3.60" height="4.00" rx="1.80" fill="#000" opacity="0.800"/>
<rect x="120.04" y="491.60" width="3.60" height="4.00" rx="1.80" fill="#000" opacity="0.800"/>
</g>
<g filter="url(#b10)">
<rect x="126.61" y="491.88" width="12.00" height="3.72" fill="#000" opacity="0.440"/>
<rect x="126.61" y="493.00" width="12.00" height="5.20" rx="2.00" fill="#000" opacity="0.880"/>
<rect x="126.61" y="491.60" width="3.60" height="4.00" rx="1.80" fill="#000" opacity="0.704"/>
<rect x="135.01" y="491.60" width="3.60" height="4.00" rx="1.80" fill="#000" opacity="0.704"/>
</g>
<g filter="url(#b10)">
<rect x="141.58" y="491.54" width="12.00" height="4.06" fill="#000" opacity="0.225"/>
<rect x="141.58" y="493.30" width="12.00" height="4.60" rx="2.00" fill="#000" opacity="0.450"/>
<rect x="141.58" y="491.10" width="3.60" height="4.50" rx="1.80" fill="#000" opacity="0.360"/>
<rect x="149.98" y="491.10" width="3.60" height="4.50" rx="1.80" fill="#000" opacity="0.360"/>
</g>
<g filter="url(#b10)">
<rect x="156.55" y="491.54" width="12.00" height="4.06" fill="#000" opacity="0.140"/>
<rect x="156.55" y="493.30" width="12.00" height="4.60" rx="2.00" fill="#000" opacity="0.280"/>
<rect x="156.55" y="491.10" width="3.60" height="4.50" rx="1.80" fill="#000" opacity="0.224"/>
<rect x="164.95" y="491.10" width="3.60" height="4.50" rx="1.80" fill="#000" opacity="0.224"/>
</g>
<g filter="url(#b10)">
<rect x="171.52" y="491.54" width="12.00" height="4.06" fill="#000" opacity="0.130"/>
<rect x="171.52" y="493.30" width="12.00" height="4.60" rx="2.00" fill="#000" opacity="0.260"/>
<rect x="171.52" y="491.10" width="3.60" height="4.50" rx="1.80" fill="#000" opacity="0.208"/>
<rect x="179.92" y="491.10" width="3.60" height="4.50" rx="1.80" fill="#000" opacity="0.208"/>
</g>
<g filter="url(#b10)">
<rect x="186.49" y="491.54" width="12.00" height="4.06" fill="#000" opacity="0.080"/>
<rect x="186.49" y="493.30" width="12.00" height="4.60" rx="2.00" fill="#000" opacity="0.160"/>
<rect x="186.49" y="491.10" width="3.60" height="4.50" rx="1.80" fill="#000" opacity="0.128"/>
<rect x="194.89" y="491.10" width="3.60" height="4.50" rx="1.80" fill="#000" opacity="0.128"/>
</g>
<g filter="url(#b10)">
<rect x="201.46" y="491.54" width="12.00" height="4.06" fill="#000" opacity="0.100"/>
<rect x="201.46" y="493.30" width="12.00" height="4.60" rx="2.00" fill="#000" opacity="0.200"/>
<rect x="201.46" y="491.10" width="3.60" height="4.50" rx="1.80" fill="#000" opacity="0.160"/>
<rect x="209.86" y="491.10" width="3.60" height="4.50" rx="1.80" fill="#000" opacity="0.160"/>
</g>
<g filter="url(#b10)">
<rect x="216.43" y="491.54" width="12.00" height="4.06" fill="#000" opacity="0.130"/>
<rect x="216.43" y="493.30" width="12.00" height="4.60" rx="2.00" fill="#000" opacity="0.260"/>
<rect x="216.43" y="491.10" width="3.60" height="4.50" rx="1.80" fill="#000" opacity="0.208"/>
<rect x="224.83" y="491.10" width="3.60" height="4.50" rx="1.80" fill="#000" opacity="0.208"/>
</g>
<g filter="url(#b10)">
<rect x="231.40" y="491.54" width="12.00" height="4.06" fill="#000" opacity="0.165"/>
<rect x="231.40" y="493.30" width="12.00" height="4.60" rx="2.00" fill="#000" opacity="0.330"/>
<rect x="231.40" y="491.10" width="3.60" height="4.50" rx="1.80" fill="#000" opacity="0.264"/>
<rect x="239.80" y="491.10" width="3.60" height="4.50" rx="1.80" fill="#000" opacity="0.264"/>
</g>
<g filter="url(#b10)">
<rect x="246.37" y="491.54" width="12.00" height="4.06" fill="#000" opacity="0.130"/>
<rect x="246.37" y="493.30" width="12.00" height="4.60" rx="2.00" fill="#000" opacity="0.260"/>
<rect x="246.37" y="491.10" width="3.60" height="4.50" rx="1.80" fill="#000" opacity="0.208"/>
<rect x="254.77" y="491.10" width="3.60" height="4.50" rx="1.80" fill="#000" opacity="0.208"/>
</g>
<g filter="url(#b10)">
<rect x="261.34" y="491.54" width="12.00" height="4.06" fill="#000" opacity="0.110"/>
<rect x="261.34" y="493.30" width="12.00" height="4.60" rx="2.00" fill="#000" opacity="0.220"/>
<rect x="261.34" y="491.10" width="3.60" height="4.50" rx="1.80" fill="#000" opacity="0.176"/>
<rect x="269.74" y="491.10" width="3.60" height="4.50" rx="1.80" fill="#000" opacity="0.176"/>
</g>
<line x1="77.44999999999999" y1="303.2" x2="278.95" y2="303.2" stroke="#333" stroke-width="1.3" />
<line x1="77.44999999999999" y1="351.3" x2="278.95" y2="351.3" stroke="#333" stroke-width="1.3" />
<line x1="278.3" y1="303.2" x2="278.3" y2="351.3" stroke="#333" stroke-width="1.3" />
<line x1="78.1" y1="303.2" x2="78.1" y2="351.3" stroke="#777" stroke-width="1.3" />
<line x1="77.44999999999999" y1="356.5" x2="277.04999999999995" y2="356.5" stroke="#333" stroke-width="1.3" />
<line x1="77.44999999999999" y1="395.4" x2="277.04999999999995" y2="395.4" stroke="#333" stroke-width="1.3" />
<line x1="276.4" y1="356.5" x2="276.4" y2="395.4" stroke="#333" stroke-width="1.3" />
<line x1="78.1" y1="356.5" x2="78.1" y2="395.4" stroke="#777" stroke-width="1.3" />
<line x1="77.55" y1="423.4" x2="277.04999999999995" y2="423.4" stroke="#333" stroke-width="1.3" />
<line x1="77.55" y1="471.6" x2="277.04999999999995" y2="471.6" stroke="#333" stroke-width="1.3" />
<line x1="276.4" y1="423.4" x2="276.4" y2="471.6" stroke="#333" stroke-width="1.3" />
<line x1="78.2" y1="423.4" x2="78.2" y2="471.6" stroke="#777" stroke-width="1.3" />
<line x1="77.55" y1="477.1" x2="277.04999999999995" y2="477.1" stroke="#333" stroke-width="1.3" />
<line x1="77.55" y1="514.8" x2="277.04999999999995" y2="514.8" stroke="#333" stroke-width="1.3" />
<line x1="276.4" y1="477.1" x2="276.4" y2="514.8" stroke="#333" stroke-width="1.3" />
<line x1="78.2" y1="477.1" x2="78.2" y2="514.8" stroke="#777" stroke-width="1.3" />
<text transform="translate(28.18,531.3) scale(0.9887,1)" x="0" y="0" font-size="12.55" font-weight="normal" fill="#111">Fraction</text>
<text transform="translate(83.90,531.5) scale(1.0500,1)" x="0" y="0" font-size="11.78" font-weight="normal" fill="#111">1</text>
<text transform="translate(99.01,531.5) scale(1.0500,1)" x="0" y="0" font-size="11.61" font-weight="normal" fill="#111">2</text>
<text transform="translate(113.93,531.5) scale(1.0500,1)" x="0" y="0" font-size="11.61" font-weight="normal" fill="#111">3</text>
<text transform="translate(128.77,531.5) scale(1.0500,1)" x="0" y="0" font-size="11.78" font-weight="normal" fill="#111">4</text>
<text transform="translate(143.63,531.5) scale(1.0500,1)" x="0" y="0" font-size="11.78" font-weight="normal" fill="#111">5</text>
<text transform="translate(158.52,531.5) scale(1.0500,1)" x="0" y="0" font-size="11.61" font-weight="normal" fill="#111">6</text>
<text transform="translate(173.39,531.5) scale(1.0500,1)" x="0" y="0" font-size="11.78" font-weight="normal" fill="#111">7</text>
<text transform="translate(188.35,531.5) scale(1.0500,1)" x="0" y="0" font-size="11.61" font-weight="normal" fill="#111">8</text>
<text transform="translate(203.22,531.5) scale(1.0500,1)" x="0" y="0" font-size="11.61" font-weight="normal" fill="#111">9</text>
<text transform="translate(215.77,531.5) scale(1.1777,1)" x="0" y="0" font-size="11.61" font-weight="normal" fill="#111">10111213</text>
<line x1="92.2" y1="535.0" x2="144.7" y2="535.0" stroke="#111" stroke-width="1.2" />
<text transform="translate(102.94,548.3) scale(1.0022,1)" x="0" y="0" font-size="12.80" font-weight="normal" fill="#111">DRM</text>
<line x1="79.8" y1="553.6" x2="270" y2="553.6" stroke="#111" stroke-width="1.5" />
<path d="M276.4,553.6 L267.2,549.8 L269.6,553.6 L267.2,557.4 Z" fill="#111" stroke="#111" stroke-width="0.4" stroke-linejoin="round"/>
<text transform="translate(134.76,569.8) scale(1.0336,1)" x="0" y="0" font-size="12.00" font-weight="normal" fill="#111">sucrose density</text>
<line x1="349.6" y1="293.1" x2="349.6" y2="395.8" stroke="#111" stroke-width="1.5" />
<line x1="345.0" y1="313.8" x2="349.6" y2="313.8" stroke="#111" stroke-width="1.4" />
<line x1="345.0" y1="354.45000000000005" x2="349.6" y2="354.45000000000005" stroke="#111" stroke-width="1.4" />
<line x1="345.0" y1="395.1" x2="349.6" y2="395.1" stroke="#111" stroke-width="1.4" />
<line x1="346.8" y1="334.125" x2="349.6" y2="334.125" stroke="#111" stroke-width="1.4" />
<line x1="346.8" y1="374.77500000000003" x2="349.6" y2="374.77500000000003" stroke="#111" stroke-width="1.4" />
<text transform="translate(339.8,318.1) scale(1.14,1)" x="0" y="0" font-size="11.8" text-anchor="end" fill="#111">20</text>
<text transform="translate(339.8,358.75000000000006) scale(1.14,1)" x="0" y="0" font-size="11.8" text-anchor="end" fill="#111">10</text>
<text transform="translate(339.8,399.40000000000003) scale(1.14,1)" x="0" y="0" font-size="11.8" text-anchor="end" fill="#111">0</text>
<line x1="345.4" y1="395.1" x2="506.3" y2="395.1" stroke="#111" stroke-width="1.5" />
<line x1="361.7" y1="395.1" x2="361.7" y2="398.6" stroke="#111" stroke-width="1.4" />
<line x1="373.37" y1="395.1" x2="373.37" y2="398.6" stroke="#111" stroke-width="1.4" />
<line x1="385.03999999999996" y1="395.1" x2="385.03999999999996" y2="398.6" stroke="#111" stroke-width="1.4" />
<line x1="396.71" y1="395.1" x2="396.71" y2="398.6" stroke="#111" stroke-width="1.4" />
<line x1="408.38" y1="395.1" x2="408.38" y2="398.6" stroke="#111" stroke-width="1.4" />
<line x1="420.05" y1="395.1" x2="420.05" y2="398.6" stroke="#111" stroke-width="1.4" />
<line x1="431.71999999999997" y1="395.1" x2="431.71999999999997" y2="398.6" stroke="#111" stroke-width="1.4" />
<line x1="443.39" y1="395.1" x2="443.39" y2="398.6" stroke="#111" stroke-width="1.4" />
<line x1="455.06" y1="395.1" x2="455.06" y2="398.6" stroke="#111" stroke-width="1.4" />
<line x1="466.73" y1="395.1" x2="466.73" y2="398.6" stroke="#111" stroke-width="1.4" />
<line x1="478.4" y1="395.1" x2="478.4" y2="398.6" stroke="#111" stroke-width="1.4" />
<line x1="490.07" y1="395.1" x2="490.07" y2="398.6" stroke="#111" stroke-width="1.4" />
<line x1="501.74" y1="395.1" x2="501.74" y2="398.6" stroke="#111" stroke-width="1.4" />
<polyline points="361.7,382.9 373.4,380.5 385.0,380.5 396.7,386.2 408.4,388.2 420.1,391.8 431.7,390.2 443.4,387.8 455.1,376.8 466.7,327.6 478.4,309.3 490.1,316.6 501.7,310.5" fill="none" stroke="#c8072b" stroke-width="1.7" stroke-linejoin="miter"/>
<polyline points="361.7,372.3 373.4,348.4 385.0,354.9 396.7,360.1 408.4,369.9 420.1,380.9 431.7,385.3 443.4,374.4 455.1,376.8 466.7,364.2 478.4,352.8 490.1,347.5 501.7,339.4" fill="none" stroke="#114a84" stroke-width="1.7" stroke-linejoin="miter"/>
<line x1="394.2" y1="316.6" x2="407.3" y2="316.6" stroke="#114a84" stroke-width="1.8" />
<line x1="394.2" y1="333.5" x2="407.3" y2="333.5" stroke="#c8072b" stroke-width="1.8" />
<text x="413.6" y="320.9" font-size="12.8" text-anchor="start" fill="#111">TM<tspan font-size="9.4" dy="3.4">WT</tspan></text>
<text x="413.6" y="338.1" font-size="12.8" text-anchor="start" fill="#111">TM<tspan font-size="9.4" dy="3.5" letter-spacing="0.7">536</tspan></text>
<g transform="translate(314.7,388.4) rotate(-90) scale(0.7833,1)"><text x="0" y="0" font-size="13.8" fill="#111" stroke="#111" stroke-width="0.4"><tspan dy="0">TM (% of the total)</tspan></text></g>
<line x1="349.6" y1="425.0" x2="349.6" y2="527.2" stroke="#111" stroke-width="1.5" />
<line x1="345.0" y1="445.2" x2="349.6" y2="445.2" stroke="#111" stroke-width="1.4" />
<line x1="345.0" y1="485.85" x2="349.6" y2="485.85" stroke="#111" stroke-width="1.4" />
<line x1="345.0" y1="526.5" x2="349.6" y2="526.5" stroke="#111" stroke-width="1.4" />
<line x1="346.8" y1="465.525" x2="349.6" y2="465.525" stroke="#111" stroke-width="1.4" />
<line x1="346.8" y1="506.175" x2="349.6" y2="506.175" stroke="#111" stroke-width="1.4" />
<text transform="translate(339.8,449.5) scale(1.14,1)" x="0" y="0" font-size="11.8" text-anchor="end" fill="#111">20</text>
<text transform="translate(339.8,490.15000000000003) scale(1.14,1)" x="0" y="0" font-size="11.8" text-anchor="end" fill="#111">10</text>
<text transform="translate(339.8,530.8) scale(1.14,1)" x="0" y="0" font-size="11.8" text-anchor="end" fill="#111">0</text>
<line x1="345.4" y1="526.5" x2="506.3" y2="526.5" stroke="#111" stroke-width="1.5" />
<line x1="361.7" y1="526.5" x2="361.7" y2="530.0" stroke="#111" stroke-width="1.4" />
<line x1="373.37" y1="526.5" x2="373.37" y2="530.0" stroke="#111" stroke-width="1.4" />
<line x1="385.03999999999996" y1="526.5" x2="385.03999999999996" y2="530.0" stroke="#111" stroke-width="1.4" />
<line x1="396.71" y1="526.5" x2="396.71" y2="530.0" stroke="#111" stroke-width="1.4" />
<line x1="408.38" y1="526.5" x2="408.38" y2="530.0" stroke="#111" stroke-width="1.4" />
<line x1="420.05" y1="526.5" x2="420.05" y2="530.0" stroke="#111" stroke-width="1.4" />
<line x1="431.71999999999997" y1="526.5" x2="431.71999999999997" y2="530.0" stroke="#111" stroke-width="1.4" />
<line x1="443.39" y1="526.5" x2="443.39" y2="530.0" stroke="#111" stroke-width="1.4" />
<line x1="455.06" y1="526.5" x2="455.06" y2="530.0" stroke="#111" stroke-width="1.4" />
<line x1="466.73" y1="526.5" x2="466.73" y2="530.0" stroke="#111" stroke-width="1.4" />
<line x1="478.4" y1="526.5" x2="478.4" y2="530.0" stroke="#111" stroke-width="1.4" />
<line x1="490.07" y1="526.5" x2="490.07" y2="530.0" stroke="#111" stroke-width="1.4" />
<line x1="501.74" y1="526.5" x2="501.74" y2="530.0" stroke="#111" stroke-width="1.4" />
<polyline points="361.7,500.1 373.4,456.2 385.0,424.9 396.7,465.5 408.4,496.0 420.1,512.3 431.7,512.3 443.4,517.6 455.1,510.2 466.7,505.0 478.4,500.1 490.1,510.2 501.7,513.9" fill="none" stroke="#c8072b" stroke-width="1.7" stroke-linejoin="miter"/>
<polyline points="361.7,508.2 373.4,464.3 385.0,433.0 396.7,452.5 408.4,478.9 420.1,507.0 431.7,520.0 443.4,507.0 455.1,507.0 466.7,507.4 478.4,510.2 490.1,513.9 501.7,520.0" fill="none" stroke="#114a84" stroke-width="1.7" stroke-linejoin="miter"/>
<line x1="415.8" y1="444.7" x2="428.0" y2="444.7" stroke="#114a84" stroke-width="1.8" />
<line x1="415.8" y1="460.2" x2="428.0" y2="460.2" stroke="#c8072b" stroke-width="1.8" />
<text x="434.6" y="449.9" font-size="12.8" text-anchor="start" fill="#111">TM<tspan font-size="9.4" dy="3.4">WT</tspan></text>
<text x="434.6" y="465.2" font-size="12.8" text-anchor="start" fill="#111">TM<tspan font-size="9.4" dy="3.5" letter-spacing="0.7">536</tspan></text>
<g transform="translate(314.7,525.4) rotate(-90) scale(0.7799,1)"><text x="0" y="0" font-size="13.8" fill="#111" stroke="#111" stroke-width="0.4"><tspan dy="0">Cav1 (% of the total)</tspan></text></g>
<text transform="translate(358.38,547.6) scale(0.6813,1)" x="0" y="0" font-size="12.22" font-weight="normal" fill="#111">1</text>
<text transform="translate(495.01,547.6) scale(1.0960,1)" x="0" y="0" font-size="12.04" font-weight="normal" fill="#111">13</text>
<line x1="368.6" y1="541.1" x2="483" y2="541.1" stroke="#111" stroke-width="1.5" />
<path d="M489.9,541.1 L481.1,537.5 L483.2,541.1 L481.1,544.6 Z" fill="#111" stroke="#111" stroke-width="0.4" stroke-linejoin="round"/>
<text transform="translate(406.47,557.1) scale(1.0180,1)" x="0" y="0" font-size="12.28" font-weight="normal" fill="#111">Fraction</text>
<text x="10.9" y="613.2" font-size="18" text-anchor="start" font-weight="bold" fill="#111" stroke="#111" stroke-width="0.7">D</text>
<text transform="translate(77.98,633.6) scale(1.0089,1)" x="0" y="0" font-size="12.22" font-weight="normal" fill="#111">Lysate</text>
<text transform="translate(175.74,633.6) scale(1.0657,1)" x="0" y="0" font-size="11.63" font-weight="normal" fill="#111">Surface</text>
<rect x="63.6" y="642.3" width="63.9" height="64.90000000000009" fill="#fff"/>
<rect x="67.20" y="646.00" width="10.00" height="26.00" fill="url(#gdown)" opacity="0.090" filter="url(#b15)"/>
<g filter="url(#b9)">
<rect x="66.80" y="672.30" width="10.80" height="4.80" rx="2.00" fill="#000" opacity="1.000"/>
</g>
<rect x="82.10" y="646.00" width="10.00" height="26.00" fill="url(#gdown)" opacity="0.090" filter="url(#b15)"/>
<g filter="url(#b9)">
<rect x="81.70" y="672.30" width="10.80" height="4.80" rx="2.00" fill="#000" opacity="1.000"/>
</g>
<g filter="url(#b8)">
<rect x="97.65" y="674.80" width="10.50" height="3.60" rx="1.80" fill="#000" opacity="0.380"/>
</g>
<g filter="url(#b8)">
<rect x="97.65" y="681.40" width="10.50" height="3.80" rx="1.90" fill="#000" opacity="0.550"/>
</g>
<g filter="url(#b8)">
<rect x="112.55" y="674.80" width="10.50" height="3.60" rx="1.80" fill="#000" opacity="0.380"/>
</g>
<g filter="url(#b8)">
<rect x="112.55" y="681.40" width="10.50" height="3.80" rx="1.90" fill="#000" opacity="0.550"/>
</g>
<rect x="63.4" y="710.8" width="65.0" height="71.20000000000005" fill="#dedede"/>
<g filter="url(#b8)">
<rect x="66.60" y="731.50" width="10.00" height="2.20" rx="1.10" fill="#000" opacity="0.140"/>
</g>
<g filter="url(#b8)">
<rect x="66.60" y="753.40" width="10.00" height="2.40" rx="1.20" fill="#000" opacity="0.450"/>
</g>
<g filter="url(#b8)">
<rect x="81.40" y="731.50" width="10.00" height="2.20" rx="1.10" fill="#000" opacity="0.120"/>
</g>
<g filter="url(#b8)">
<rect x="81.40" y="753.40" width="10.00" height="2.40" rx="1.20" fill="#000" opacity="0.450"/>
</g>
<g filter="url(#b8)">
<rect x="97.40" y="731.50" width="10.00" height="2.20" rx="1.10" fill="#000" opacity="0.130"/>
</g>
<g filter="url(#b8)">
<rect x="97.40" y="753.40" width="10.00" height="2.40" rx="1.20" fill="#000" opacity="0.500"/>
</g>
<g filter="url(#b8)">
<rect x="111.50" y="731.50" width="10.00" height="2.20" rx="1.10" fill="#000" opacity="0.120"/>
</g>
<g filter="url(#b8)">
<rect x="111.50" y="753.40" width="10.00" height="2.40" rx="1.20" fill="#000" opacity="0.420"/>
</g>
<line x1="62.95" y1="642.3" x2="128.15" y2="642.3" stroke="#333" stroke-width="1.3" />
<line x1="62.95" y1="707.2" x2="128.15" y2="707.2" stroke="#333" stroke-width="1.3" />
<line x1="127.5" y1="642.3" x2="127.5" y2="707.2" stroke="#333" stroke-width="1.3" />
<line x1="63.6" y1="642.3" x2="63.6" y2="707.2" stroke="#333" stroke-width="1.3" />
<line x1="62.75" y1="710.8" x2="129.05" y2="710.8" stroke="#333" stroke-width="1.3" />
<line x1="62.75" y1="782.0" x2="129.05" y2="782.0" stroke="#333" stroke-width="1.3" />
<line x1="128.4" y1="710.8" x2="128.4" y2="782.0" stroke="#333" stroke-width="1.3" />
<line x1="63.4" y1="710.8" x2="63.4" y2="782.0" stroke="#333" stroke-width="1.3" />
<line x1="95.9" y1="642" x2="95.9" y2="793.5" stroke="#111" stroke-width="1.2" stroke-dasharray="2.9 3.0"/>
<text transform="translate(40.51,683.8) scale(0.9722,1)" x="0" y="0" font-size="13.38" font-weight="normal" fill="#111">TM</text>
<text transform="translate(28.39,737.2) scale(0.9791,1)" x="0" y="0" font-size="12.65" font-weight="normal" fill="#111">proIR</text>
<text transform="translate(46.14,759.6) scale(0.9811,1)" x="0" y="0" font-size="12.80" font-weight="normal" fill="#111">IR</text>
<text x="60.0" y="795.0" font-size="12.0" text-anchor="start" fill="#111">TM<tspan font-size="9.3" dy="3.5">WT</tspan></text>
<text x="99.7" y="795.0" font-size="12.0" text-anchor="start" fill="#111">TM<tspan font-size="9.3" dy="3.5" letter-spacing="0.7">536</tspan></text>
<rect x="163.3" y="642.5" width="64.1" height="64.5" fill="#fff"/>
<g filter="url(#b9)">
<rect x="166.75" y="649.30" width="10.50" height="2.60" rx="1.30" fill="#000" opacity="0.220"/>
</g>
<rect x="166.75" y="652.00" width="10.50" height="21.00" fill="url(#gdown)" opacity="0.380" filter="url(#b16)"/>
<rect x="167.00" y="678.00" width="10.00" height="25.00" fill="url(#gup)" opacity="0.100" filter="url(#b18)"/>
<g filter="url(#b11)">
<rect x="166.30" y="672.50" width="11.40" height="5.60" rx="2.00" fill="#000" opacity="1.000"/>
</g>
<g filter="url(#b9)">
<rect x="181.95" y="649.30" width="10.50" height="2.60" rx="1.30" fill="#000" opacity="0.220"/>
</g>
<rect x="181.95" y="652.00" width="10.50" height="21.00" fill="url(#gdown)" opacity="0.380" filter="url(#b16)"/>
<rect x="182.20" y="678.00" width="10.00" height="25.00" fill="url(#gup)" opacity="0.100" filter="url(#b18)"/>
<g filter="url(#b11)">
<rect x="181.50" y="672.50" width="11.40" height="5.60" rx="2.00" fill="#000" opacity="1.000"/>
</g>
<rect x="198.40" y="646.00" width="10.00" height="54.00" fill="#000" opacity="0.040" filter="url(#b15)"/>
<g filter="url(#b12)">
<rect x="198.10" y="675.20" width="10.60" height="4.40" rx="2.00" fill="#000" opacity="0.520"/>
</g>
<rect x="198.15" y="679.00" width="10.50" height="10.00" fill="url(#gup)" opacity="0.250" filter="url(#b15)"/>
<rect x="213.10" y="646.00" width="10.00" height="54.00" fill="#000" opacity="0.040" filter="url(#b15)"/>
<g filter="url(#b12)">
<rect x="212.80" y="675.20" width="10.60" height="4.40" rx="2.00" fill="#000" opacity="0.520"/>
</g>
<rect x="212.85" y="679.00" width="10.50" height="10.00" fill="url(#gup)" opacity="0.250" filter="url(#b15)"/>
<rect x="163.2" y="711.2" width="64.80000000000001" height="70.79999999999995" fill="#f6f6f6"/>
<g filter="url(#b9)">
<rect x="167.70" y="754.40" width="9.80" height="2.80" rx="1.40" fill="#000" opacity="0.400"/>
</g>
<g filter="url(#b9)">
<rect x="182.70" y="754.40" width="9.80" height="2.80" rx="1.40" fill="#000" opacity="0.280"/>
</g>
<g filter="url(#b9)">
<rect x="198.30" y="754.40" width="9.80" height="2.80" rx="1.40" fill="#000" opacity="0.720"/>
</g>
<g filter="url(#b9)">
<rect x="213.30" y="754.40" width="9.80" height="2.80" rx="1.40" fill="#000" opacity="0.420"/>
</g>
<line x1="162.65" y1="642.5" x2="228.05" y2="642.5" stroke="#333" stroke-width="1.3" />
<line x1="162.65" y1="707.0" x2="228.05" y2="707.0" stroke="#333" stroke-width="1.3" />
<line x1="227.4" y1="642.5" x2="227.4" y2="707.0" stroke="#333" stroke-width="1.3" />
<line x1="163.3" y1="642.5" x2="163.3" y2="707.0" stroke="#333" stroke-width="1.3" />
<line x1="162.54999999999998" y1="711.2" x2="228.65" y2="711.2" stroke="#333" stroke-width="1.3" />
<line x1="162.54999999999998" y1="782.0" x2="228.65" y2="782.0" stroke="#333" stroke-width="1.3" />
<line x1="228.0" y1="711.2" x2="228.0" y2="782.0" stroke="#333" stroke-width="1.3" />
<line x1="163.2" y1="711.2" x2="163.2" y2="782.0" stroke="#333" stroke-width="1.3" />
<line x1="195.5" y1="642" x2="195.5" y2="793.5" stroke="#111" stroke-width="1.2" stroke-dasharray="2.9 3.0"/>
<line x1="159.6" y1="646.5" x2="163.4" y2="646.5" stroke="#111" stroke-width="1.3" />
<text transform="translate(147.53,650.4) scale(1.1240,1)" x="0" y="0" font-size="11.86" font-weight="normal" fill="#111">d</text>
<line x1="227.6" y1="644.9" x2="231.4" y2="644.9" stroke="#111" stroke-width="1.3" />
<line x1="227.6" y1="661.1" x2="231.4" y2="661.1" stroke="#111" stroke-width="1.3" />
<line x1="227.6" y1="683.0" x2="231.4" y2="683.0" stroke="#111" stroke-width="1.3" />
<text transform="translate(237.67,647.5) scale(1.1102,1)" x="0" y="0" font-size="11.17" font-weight="normal" fill="#111">198kDa</text>
<text transform="translate(236.88,664.0) scale(1.1685,1)" x="0" y="0" font-size="11.61" font-weight="normal" fill="#111">100</text>
<text transform="translate(237.23,686.5) scale(1.1059,1)" x="0" y="0" font-size="11.61" font-weight="normal" fill="#111">70</text>
<line x1="228.0" y1="724.3" x2="231.5" y2="724.3" stroke="#111" stroke-width="1.3" />
<line x1="228.0" y1="746.6" x2="231.5" y2="746.6" stroke="#111" stroke-width="1.3" />
<line x1="228.0" y1="776.3" x2="231.5" y2="776.3" stroke="#111" stroke-width="1.3" />
<text transform="translate(236.99,728.0) scale(1.1470,1)" x="0" y="0" font-size="11.76" font-weight="normal" fill="#111">198</text>
<text transform="translate(236.99,750.0) scale(1.1433,1)" x="0" y="0" font-size="11.76" font-weight="normal" fill="#111">100</text>
<text transform="translate(237.33,779.7) scale(1.1112,1)" x="0" y="0" font-size="11.47" font-weight="normal" fill="#111">70</text>
<text x="160.4" y="795.7" font-size="12.0" text-anchor="start" fill="#111">TM<tspan font-size="9.3" dy="3.5">WT</tspan></text>
<text x="200.6" y="795.7" font-size="12.0" text-anchor="start" fill="#111">TM<tspan font-size="9.3" dy="3.5" letter-spacing="0.7">536</tspan></text>
<text x="306.0" y="614.2" font-size="18" text-anchor="start" font-weight="bold" fill="#111" stroke="#111" stroke-width="0.7">E</text>
<text x="361.4" y="633.6" font-size="12.4" text-anchor="start" fill="#111">TM<tspan font-size="9.2" dy="3.4">WT</tspan></text>
<text x="402.8" y="633.6" font-size="12.4" text-anchor="start" fill="#111">TM<tspan font-size="9.2" dy="3.4" letter-spacing="0.7">536</tspan></text>
<rect x="367.4" y="643.3" width="63.200000000000045" height="59.10000000000002" fill="#fff"/>
<rect x="370.10" y="646.00" width="11.00" height="53.00" fill="#000" opacity="0.070" filter="url(#b15)"/>
<rect x="384.30" y="646.00" width="11.00" height="53.00" fill="#000" opacity="0.070" filter="url(#b15)"/>
<rect x="400.90" y="646.00" width="11.00" height="53.00" fill="#000" opacity="0.070" filter="url(#b15)"/>
<rect x="415.50" y="646.00" width="11.00" height="53.00" fill="#000" opacity="0.070" filter="url(#b15)"/>
<g filter="url(#b11)">
<rect x="369.85" y="662.10" width="11.50" height="4.40" rx="2.00" fill="#000" opacity="1.000"/>
</g>
<rect x="370.10" y="667.00" width="11.00" height="15.00" fill="url(#gup)" opacity="0.120" filter="url(#b15)"/>
<g filter="url(#b11)">
<rect x="384.05" y="662.10" width="11.50" height="4.40" rx="2.00" fill="#000" opacity="0.970"/>
</g>
<g filter="url(#b11)">
<rect x="384.30" y="673.80" width="11.00" height="3.60" rx="1.80" fill="#000" opacity="0.380"/>
</g>
<rect x="384.30" y="677.00" width="11.00" height="15.00" fill="url(#gup)" opacity="0.100" filter="url(#b15)"/>
<g filter="url(#b12)">
<rect x="400.95" y="664.10" width="10.50" height="3.80" rx="1.90" fill="#000" opacity="0.300"/>
</g>
<g filter="url(#b13)">
<rect x="400.95" y="670.40" width="10.50" height="4.40" rx="2.00" fill="#000" opacity="0.400"/>
</g>
<rect x="400.95" y="665.00" width="10.50" height="9.00" fill="#000" opacity="0.150" filter="url(#b12)"/>
<rect x="400.95" y="674.00" width="10.50" height="16.00" fill="url(#gup)" opacity="0.120" filter="url(#b15)"/>
<g filter="url(#b12)">
<rect x="415.50" y="664.30" width="11.00" height="3.40" rx="1.70" fill="#000" opacity="0.260"/>
</g>
<g filter="url(#b11)">
<rect x="415.50" y="678.50" width="11.00" height="4.20" rx="2.00" fill="#000" opacity="0.550"/>
</g>
<rect x="415.50" y="668.00" width="11.00" height="27.00" fill="#000" opacity="0.100" filter="url(#b15)"/>
<line x1="366.75" y1="643.3" x2="431.25" y2="643.3" stroke="#333" stroke-width="1.3" />
<line x1="366.75" y1="702.4" x2="431.25" y2="702.4" stroke="#333" stroke-width="1.3" />
<line x1="430.6" y1="643.3" x2="430.6" y2="702.4" stroke="#333" stroke-width="1.3" />
<line x1="367.4" y1="643.3" x2="367.4" y2="702.4" stroke="#333" stroke-width="1.3" />
<line x1="399.5" y1="628" x2="399.5" y2="721" stroke="#111" stroke-width="1.2" stroke-dasharray="2.9 3.0"/>
<line x1="430.6" y1="649.4" x2="434.0" y2="649.4" stroke="#111" stroke-width="1.3" />
<line x1="430.6" y1="670.3" x2="434.0" y2="670.3" stroke="#111" stroke-width="1.3" />
<line x1="430.6" y1="698.1" x2="434.0" y2="698.1" stroke="#111" stroke-width="1.3" />
<text transform="translate(439.05,653.1) scale(1.1288,1)" x="0" y="0" font-size="11.17" font-weight="normal" fill="#111">100kDa</text>
<text transform="translate(439.33,674.4) scale(1.1059,1)" x="0" y="0" font-size="11.61" font-weight="normal" fill="#111">70</text>
<text transform="translate(439.28,701.9) scale(1.1092,1)" x="0" y="0" font-size="11.61" font-weight="normal" fill="#111">50</text>
<text transform="translate(343.53,677.9) scale(1.0033,1)" x="0" y="0" font-size="12.07" font-weight="normal" fill="#111">TM</text>
<text transform="translate(321.74,716.9) scale(1.0842,1)" x="0" y="0" font-size="11.86" font-weight="normal" fill="#111">EndoH</text>
<line x1="370.8" y1="713.5" x2="377.3" y2="713.5" stroke="#111" stroke-width="1.3" />
<line x1="403.0" y1="713.5" x2="409.5" y2="713.5" stroke="#111" stroke-width="1.3" />
<line x1="386.59999999999997" y1="713.5" x2="393.8" y2="713.5" stroke="#111" stroke-width="1.3" />
<line x1="390.2" y1="710.0" x2="390.2" y2="717.0" stroke="#111" stroke-width="1.3" />
<line x1="419.4" y1="713.5" x2="426.6" y2="713.5" stroke="#111" stroke-width="1.3" />
<line x1="423.0" y1="710.0" x2="423.0" y2="717.0" stroke="#111" stroke-width="1.3" />
<rect x="0.5" y="0.5" width="519" height="809" fill="none" stroke="#1e1e1e" stroke-width="1"/>
</svg>
</body></html>
